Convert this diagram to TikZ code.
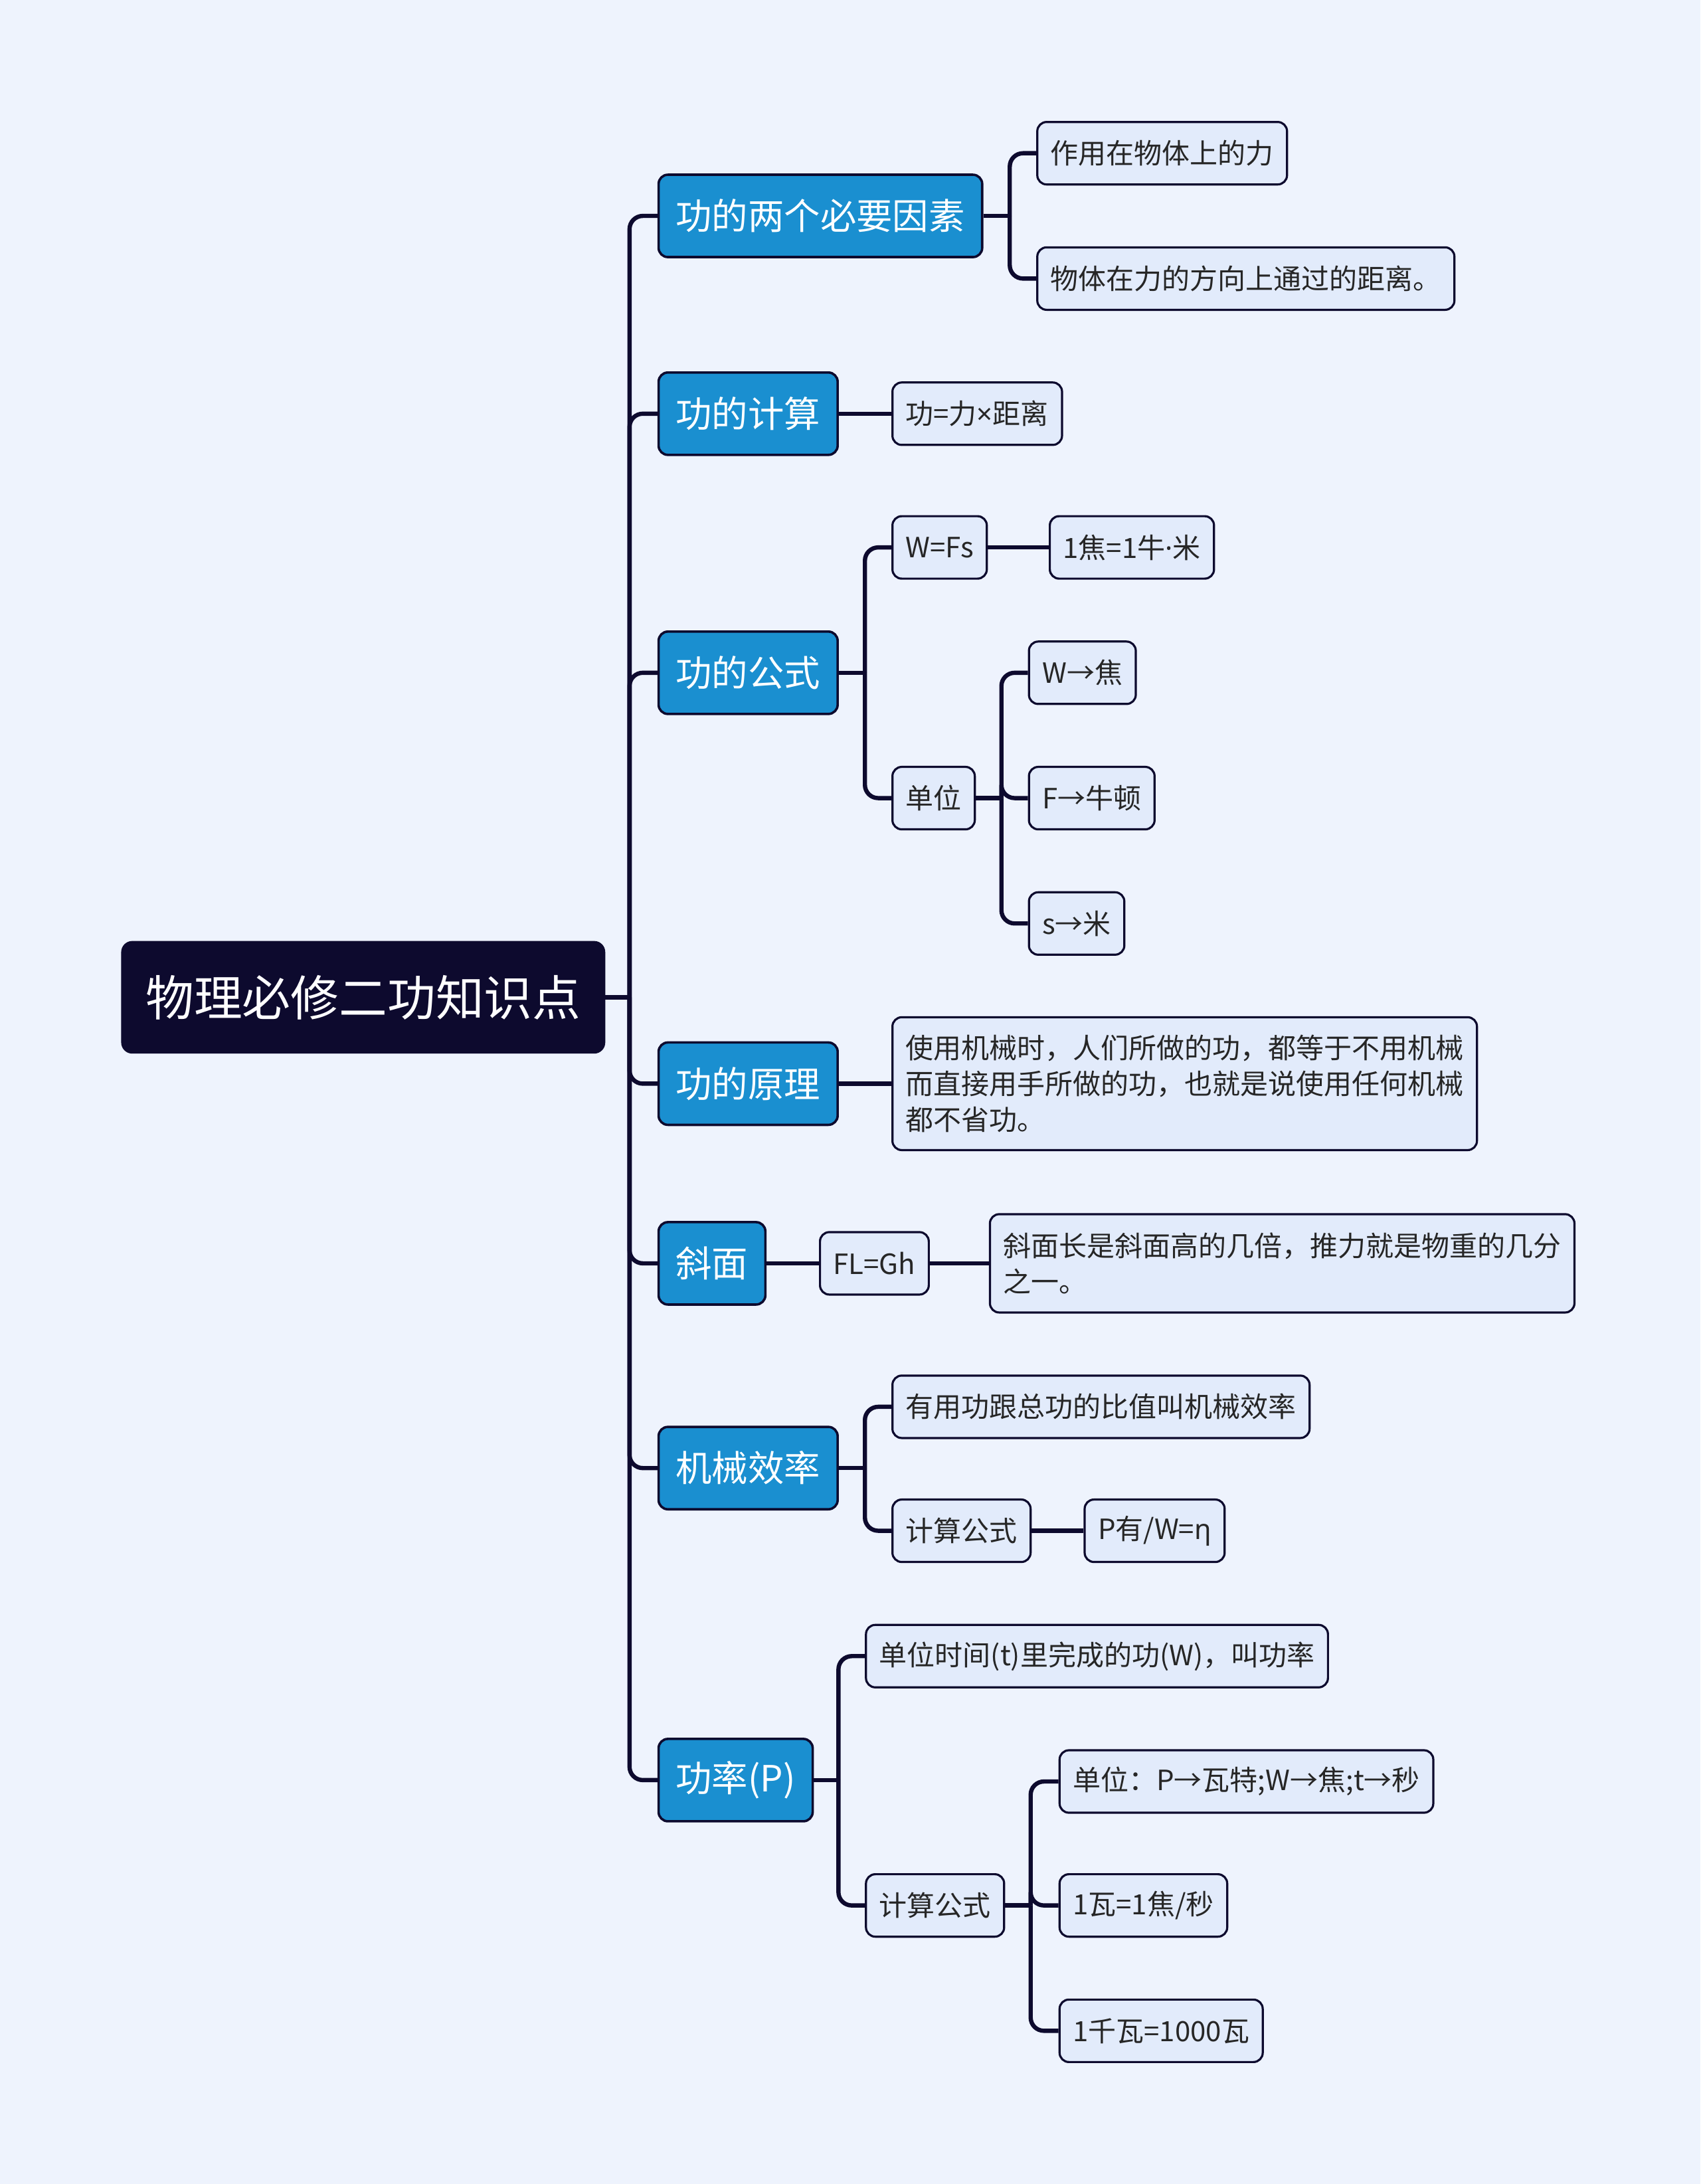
\documentclass[tikz,border=0pt]{standalone}
\usepackage{fontspec}
\setmainfont{Noto Sans CJK SC}
\newfontfamily\latinsym{Noto Sans}
\usetikzlibrary{positioning}
\definecolor{mapBg}{HTML}{EEF3FD}
\definecolor{ink}{HTML}{0D0A2E}
\definecolor{topicBlue}{HTML}{1A8FD0}
\definecolor{leafFill}{HTML}{E2EBFB}
\definecolor{leafText}{HTML}{262626}

\begin{document}
\begin{tikzpicture}[
  x=0.5242pt, y=-0.5242pt,
  rootbox/.style={
    rectangle, rounded corners=4pt, fill=ink, draw=ink, text=white,
    font=\fontsize{18.2}{22}\selectfont, minimum height=42pt, inner xsep=9pt, anchor=west
  },
  topic/.style={
    rectangle, rounded corners=3.5pt, fill=topicBlue, draw=ink, line width=0.9pt,
    text=white, font=\fontsize{13.6}{16}\selectfont, minimum height=31pt,
    inner xsep=6.5pt, anchor=west
  },
  leaf/.style={
    rectangle, rounded corners=3.5pt, fill=leafFill, draw=ink, line width=0.8pt,
    text=leafText, font=\fontsize{10.5}{13.6}\selectfont, minimum height=23.5pt,
    inner xsep=5pt, align=left, anchor=west
  },
  conn/.style={draw=ink, line width=1.6pt, rounded corners=5pt}
]
% --- Canvas ---
\fill[mapBg] (0,0) rectangle (1221,1568);
\useasboundingbox (0,0) rectangle (1221,1568);

% --- Root ---
\node[rootbox] (root) at (87,716) {物理必修二功知识点};

% --- Main topics ---
\node[topic] (factors) at (472,155)  {功的两个必要因素};
\node[topic] (calc)    at (472,297)  {功的计算};
\node[topic] (formula) at (472,483)  {功的公式};
\node[topic] (princ)   at (472,778)  {功的原理};
\node[topic] (slope)   at (472,907)  {斜面};
\node[topic] (eff)     at (472,1054) {机械效率};
\node[topic] (power)   at (472,1278) {功率(P)};

% --- Leaves ---
\node[leaf] (force)  at (744,110) {作用在物体上的力};
\node[leaf] (dist)   at (744,200) {物体在力的方向上通过的距离。};

\node[leaf] (calcA)  at (640,297) {功=力{\latinsym ×}距离};

\node[leaf] (wfs)    at (640,393) {W=Fs};
\node[leaf] (joule)  at (753,393) {1焦=1牛{\latinsym ·}米};
\node[leaf] (unit)   at (640,573) {单位};
\node[leaf] (uW)     at (738,483) {W→焦};
\node[leaf] (uF)     at (738,573) {F→牛顿};
\node[leaf] (uS)     at (738,663) {s→米};

\node[leaf, minimum height=50pt] (princA) at (640,778)
  {使用机械时，人们所做的功，都等于不用机械\\而直接用手所做的功，也就是说使用任何机械\\都不省功。};

\node[leaf] (flgh)   at (588,907) {FL=Gh};
\node[leaf, minimum height=37pt] (slopeA) at (710,907)
  {斜面长是斜面高的几倍，推力就是物重的几分\\之一。};

\node[leaf] (effA)   at (640,1010) {有用功跟总功的比值叫机械效率};
\node[leaf] (effB)   at (640,1099) {计算公式};
\node[leaf] (effF)   at (778,1099) {P有/W={\latinsym η}};

\node[leaf] (powA)   at (621,1189) {单位时间(t)里完成的功(W)，叫功率};
\node[leaf] (powB)   at (621,1368) {计算公式};
\node[leaf] (pU)     at (760,1279) {单位：P→瓦特;W→焦;t→秒};
\node[leaf] (pW)     at (760,1368) {1瓦=1焦/秒};
\node[leaf] (pKW)    at (760,1458) {1千瓦=1000瓦};

% --- Junctions ---
\coordinate (jRoot)    at (452,716);
\coordinate (jFactors) at (725,155);
\coordinate (jFormula) at (621,483);
\coordinate (jUnit)    at (719,573);
\coordinate (jEff)     at (621,1054);
\coordinate (jPower)   at (602,1278);
\coordinate (jPowB)    at (740,1368);

% --- Connectors ---
\draw[conn] (root.east) -- (jRoot);
\foreach \t in {factors, calc, formula, princ, slope, eff, power}
  \draw[conn] (jRoot) |- (\t.west);

\draw[conn] (factors.east) -- (jFactors);
\foreach \t in {force, dist}
  \draw[conn] (jFactors) |- (\t.west);

\draw[conn] (calc) -- (calcA);

\draw[conn] (formula.east) -- (jFormula);
\foreach \t in {wfs, unit}
  \draw[conn] (jFormula) |- (\t.west);
\draw[conn] (wfs) -- (joule);
\draw[conn] (unit.east) -- (jUnit);
\foreach \t in {uW, uF, uS}
  \draw[conn] (jUnit) |- (\t.west);

\draw[conn] (princ) -- (princA);

\draw[conn] (slope) -- (flgh);
\draw[conn] (flgh) -- (slopeA);

\draw[conn] (eff.east) -- (jEff);
\foreach \t in {effA, effB}
  \draw[conn] (jEff) |- (\t.west);
\draw[conn] (effB) -- (effF);

\draw[conn] (power.east) -- (jPower);
\foreach \t in {powA, powB}
  \draw[conn] (jPower) |- (\t.west);
\draw[conn] (powB.east) -- (jPowB);
\foreach \t in {pU, pW, pKW}
  \draw[conn] (jPowB) |- (\t.west);

\end{tikzpicture}
\end{document}
